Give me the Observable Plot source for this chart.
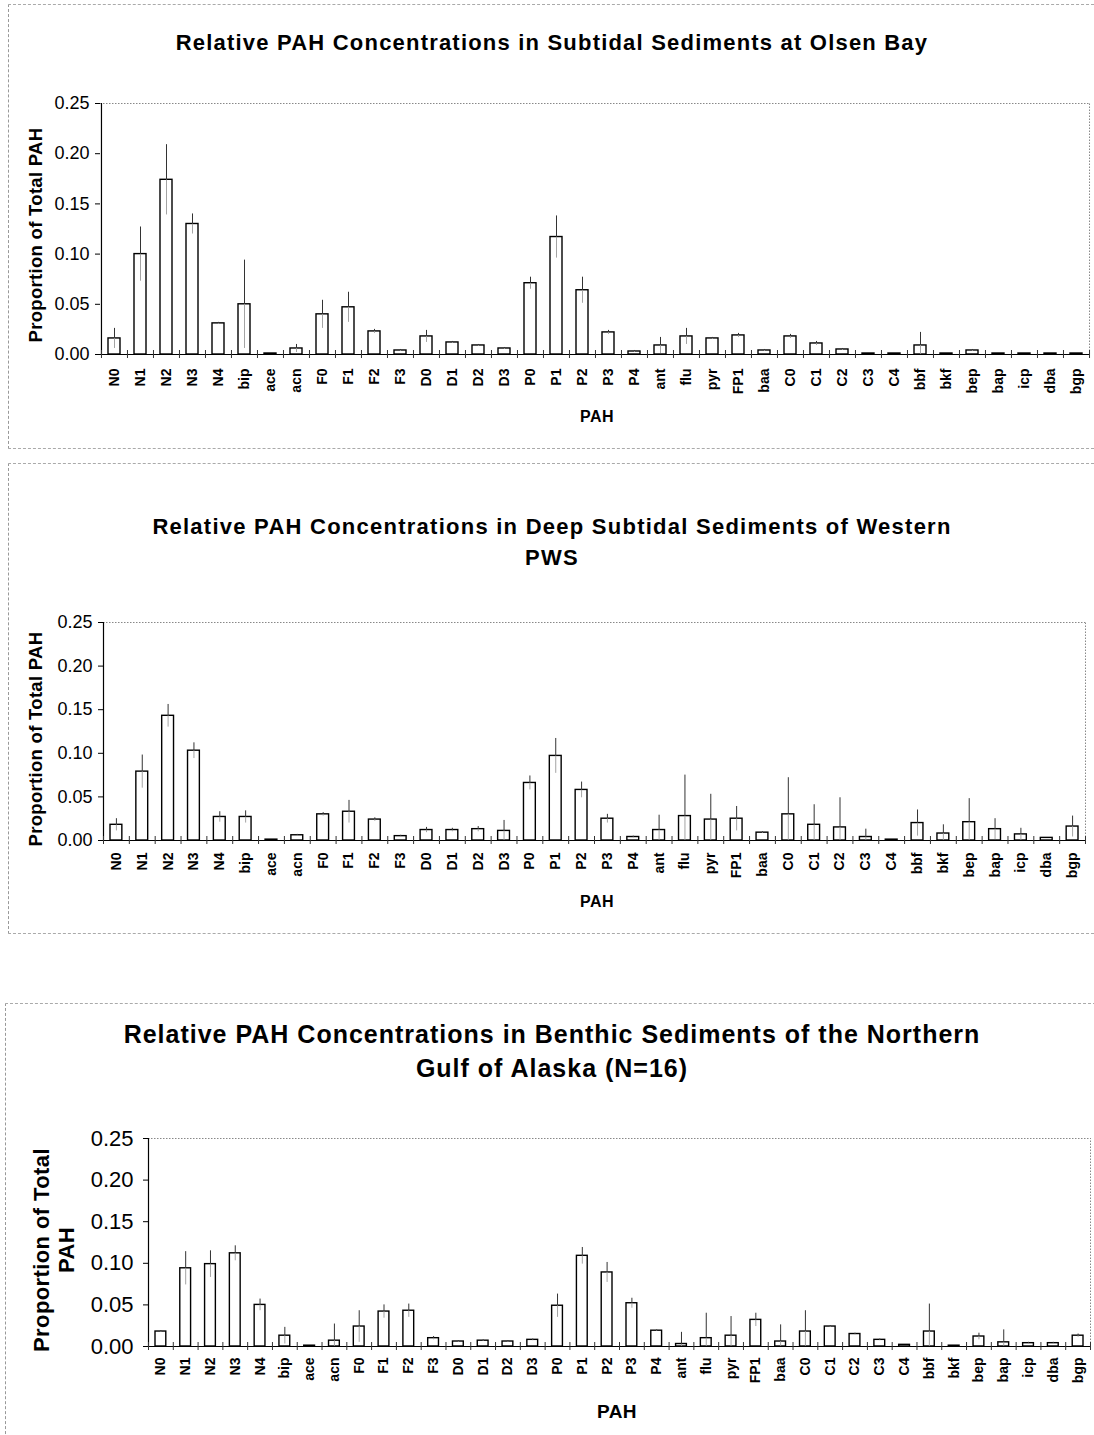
<!DOCTYPE html>
<html>
<head>
<meta charset="utf-8">
<script src="https://cdn.jsdelivr.net/npm/d3@7"></script>
<script src="https://cdn.jsdelivr.net/npm/@observablehq/plot@0.6"></script>
<style>
  html, body { margin: 0; padding: 0; background: #fff; }
  body { width: 1094px; height: 1435px; position: relative; overflow: hidden;
         font-family: "Liberation Sans", Arial, sans-serif; color: #000; }
  .abs { position: absolute; }
  .txt { z-index: 5; }
  .title { left: 0; width: 1104px; text-align: center; font-weight: bold; }
  .ytitle { font-weight: bold; white-space: nowrap; text-align: center; transform: translate(-50%, -50%) rotate(-90deg); }
  .xtitle { font-weight: bold; transform: translate(-50%, -50%); letter-spacing: 0.5px; }
  .box { border-top: 1px dashed #aaa; border-left: 1px dashed #999; border-bottom: 1px dashed #aaa; z-index: 1; }
  .chart { left: 0; z-index: 2; }
</style>
</head>
<body>
<div class="abs box" style="left:8px; top:4px; width:1100px; height:443px;"></div>
<div class="abs box" style="left:8px; top:463px; width:1100px; height:469px;"></div>
<div class="abs box" style="left:5px; top:1003px; width:1100px; height:440px; border-bottom:none;"></div>

<div class="abs chart" id="c1" style="top:95px;"></div>
<div class="abs chart" id="c2" style="top:612px;"></div>
<div class="abs chart" id="c3" style="top:1128px;"></div>

<div class="abs title txt" id="t1" style="top:30px; font-size:22px; line-height:26px; letter-spacing:1.2px;"></div>
<div class="abs title txt" id="t2" style="top:511px; font-size:22px; line-height:31px; letter-spacing:1.25px;"></div>
<div class="abs title txt" id="t3" style="top:1017px; font-size:25px; line-height:34px; letter-spacing:1px;"></div>

<div class="abs ytitle txt" id="y1" style="left:36px; top:235px; font-size:18.5px; letter-spacing:0.3px;"></div>
<div class="abs ytitle txt" id="y2" style="left:36px; top:739px; font-size:18.5px; letter-spacing:0.3px;"></div>
<div class="abs ytitle txt" id="y3" style="left:54px; top:1250px; font-size:22px; line-height:25px; letter-spacing:0.4px;"></div>

<div class="abs xtitle txt" id="x1" style="left:597px; top:417px; font-size:16px;"></div>
<div class="abs xtitle txt" id="x2" style="left:597px; top:902px; font-size:16px;"></div>
<div class="abs xtitle txt" id="x3" style="left:617px; top:1412px; font-size:19px;"></div>

<script>
// ---- Data ----
const pahs = ["N0","N1","N2","N3","N4","bip","ace","acn","F0","F1","F2","F3","D0","D1","D2","D3",
  "P0","P1","P2","P3","P4","ant","flu","pyr","FP1","baa","C0","C1","C2","C3","C4",
  "bbf","bkf","bep","bap","icp","dba","bgp"];

// Olsen Bay
const olsenValues = [0.016,0.100,0.174,0.130,0.031,0.050,0.001,0.006,0.040,0.047,0.023,0.004,0.018,0.012,0.009,0.006,
  0.071,0.117,0.064,0.022,0.003,0.009,0.018,0.016,0.019,0.004,0.018,0.011,0.005,0.001,0.001,
  0.009,0.001,0.004,0.001,0.001,0.001,0.001];
const olsenErrors = [0.010,0.027,0.035,0.010,0.001,0.044,0,0.004,0.014,0.015,0.002,0.001,0.006,0.001,0.001,0.001,
  0.006,0.021,0.013,0.002,0.001,0.008,0.008,0.001,0.002,0.001,0.002,0.002,0.001,0,0,
  0.013,0,0.001,0,0,0,0];

// Deep subtidal, western PWS
const pwsValues = [0.018,0.079,0.143,0.103,0.027,0.027,0.001,0.006,0.030,0.033,0.024,0.005,0.012,0.012,0.013,0.011,
  0.066,0.097,0.058,0.025,0.004,0.012,0.028,0.024,0.025,0.009,0.030,0.018,0.015,0.004,0.001,
  0.020,0.008,0.021,0.013,0.007,0.003,0.016];
const pwsErrors = [0.007,0.019,0.013,0.009,0.006,0.007,0,0.001,0.002,0.013,0.002,0.001,0.003,0.002,0.003,0.012,
  0.008,0.020,0.009,0.005,0.001,0.017,0.047,0.029,0.014,0.001,0.042,0.023,0.034,0.009,0,
  0.015,0.010,0.027,0.012,0.007,0,0.012];

// Northern Gulf of Alaska (N=16)
const goaValues = [0.018,0.094,0.099,0.112,0.050,0.013,0.001,0.007,0.024,0.042,0.043,0.010,0.006,0.007,0.006,0.008,
  0.049,0.109,0.089,0.052,0.019,0.003,0.010,0.013,0.032,0.006,0.018,0.024,0.015,0.008,0.002,
  0.018,0.001,0.012,0.005,0.004,0.004,0.013];
const goaErrors = [0.001,0.020,0.016,0.009,0.007,0.010,0,0.020,0.019,0.008,0.008,0.002,0.001,0.001,0.001,0.001,
  0.014,0.010,0.012,0.006,0.001,0.014,0.030,0.023,0.008,0.020,0.025,0.001,0.001,0.001,0,
  0.033,0,0.004,0.015,0.001,0.001,0.002];

const yTicks = [0, 0.05, 0.10, 0.15, 0.20, 0.25];
const yDomain = [0, 0.25];

const titles = [
  ["Relative PAH Concentrations in Subtidal Sediments at Olsen Bay"],
  ["Relative PAH Concentrations in Deep Subtidal Sediments of Western", "PWS"],
  ["Relative PAH Concentrations in Benthic Sediments of the Northern", "Gulf of Alaska (N=16)"]
];
const yTitles = [["Proportion of Total PAH"], ["Proportion of Total PAH"], ["Proportion of Total", "PAH"]];
const xTitle = "PAH";

// ---- Rendering ----
function makeChart(values, errors, cfg) {
  const data = pahs.map((p, i) => ({pah: p, value: values[i], error: errors[i]}));
  const withErr = data.filter(d => d.error > 0);
  const step = (cfg.width - cfg.ml - cfg.mr) / pahs.length;
  const pxPerUnit = (cfg.height - cfg.mt - cfg.mb) / (yDomain[1] - yDomain[0]);
  const tk = 4 / pxPerUnit;
  return Plot.plot({
    width: cfg.width, height: cfg.height,
    marginLeft: cfg.ml, marginRight: cfg.mr, marginTop: cfg.mt, marginBottom: cfg.mb,
    style: {fontFamily: '"Liberation Sans", Arial, sans-serif', background: "transparent", color: "black", overflow: "visible"},
    x: {domain: pahs, padding: 0, axis: null},
    y: {domain: yDomain, axis: null},
    marks: [
      Plot.ruleY([yDomain[1]], {stroke: "#888", strokeDasharray: "1.5,1.5", strokeWidth: 1}),
      Plot.ruleX([pahs[pahs.length - 1]], {y1: yDomain[0], y2: yDomain[1], dx: step / 2, stroke: "#888", strokeDasharray: "1.5,1.5"}),
      Plot.barY(data, {x: "pah", y: "value", fill: "white", stroke: "black", strokeWidth: 1.4, insetLeft: cfg.inset, insetRight: cfg.inset}),
      Plot.ruleX(withErr, {x: "pah", y1: d => Math.max(0, d.value - d.error), y2: "value", stroke: "#9a9a9a", strokeWidth: 0.9}),
      Plot.ruleX(withErr, {x: "pah", y1: "value", y2: d => d.value + d.error, stroke: "#333", strokeWidth: 1}),
      Plot.ruleY([0], {stroke: "black", strokeWidth: 1.2}),
      Plot.ruleX([pahs[0]], {y1: yDomain[0], y2: yDomain[1], dx: -step / 2, stroke: "black", strokeWidth: 1.2}),
      Plot.ruleX(pahs, {x: d => d, y1: -tk, y2: tk, dx: -step / 2, stroke: "#333", strokeWidth: 1}),
      Plot.ruleX([pahs[pahs.length - 1]], {y1: -tk, y2: tk, dx: step / 2, stroke: "#333", strokeWidth: 1}),
      Plot.axisY({ticks: yTicks, tickFormat: d3.format(".2f"), tickSize: 5, tickPadding: cfg.yPad, fontSize: cfg.yFont, label: null}),
      Plot.axisX({tickRotate: -90, tickSize: 0, tickPadding: cfg.xPad, fontSize: cfg.xFont, fontWeight: "bold", label: null})
    ]
  });
}

function setLines(id, lines) {
  const el = document.getElementById(id);
  lines.forEach((l, i) => {
    if (i) el.appendChild(document.createElement("br"));
    el.appendChild(document.createTextNode(l));
  });
}
titles.forEach((t, i) => setLines("t" + (i + 1), t));
yTitles.forEach((t, i) => setLines("y" + (i + 1), t));
["x1", "x2", "x3"].forEach(id => setLines(id, [xTitle]));

document.getElementById("c1").appendChild(makeChart(olsenValues, olsenErrors,
  {width: 1094, height: 340, ml: 100, mr: 4, mt: 8, mb: 81, inset: 7, yFont: 18, yPad: 6, xFont: 14, xPad: 14}));
document.getElementById("c2").appendChild(makeChart(pwsValues, pwsErrors,
  {width: 1094, height: 300, ml: 103, mr: 9, mt: 10, mb: 72, inset: 7, yFont: 18, yPad: 6, xFont: 14, xPad: 12}));
document.getElementById("c3").appendChild(makeChart(goaValues, goaErrors,
  {width: 1094, height: 300, ml: 148, mr: 4, mt: 10, mb: 82, inset: 7, yFont: 22, yPad: 10, xFont: 14, xPad: 11}));
</script>
</body>
</html>
